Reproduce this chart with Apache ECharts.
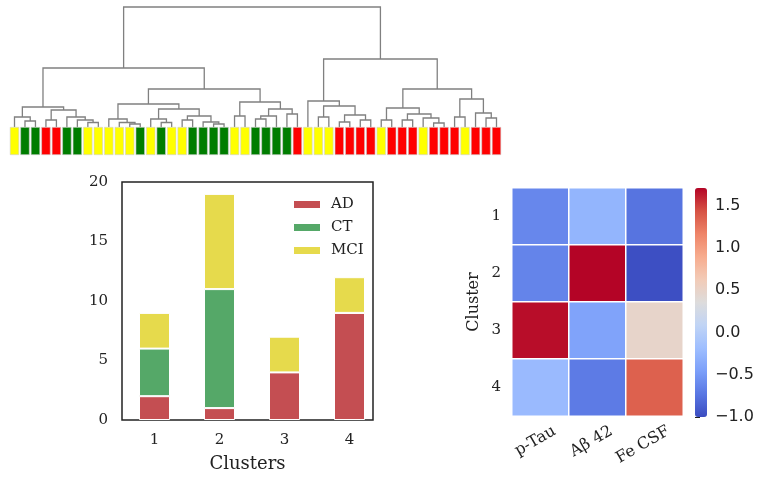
<!DOCTYPE html>
<html><head><meta charset="utf-8">
<script src="https://cdn.jsdelivr.net/npm/echarts@6/dist/echarts.min.js"></script>
<style>html,body{margin:0;padding:0;background:#fff}#c{width:765px;height:488px}</style>
</head><body><div id="c"></div>
<script>
// ---- Data ----
const leafClasses = ['MCI','CT','CT','AD','AD','CT','CT','MCI','MCI','MCI','MCI','MCI','CT','MCI','CT','MCI','MCI','CT','CT','CT','CT','MCI','MCI','CT','CT','CT','CT','AD','MCI','MCI','MCI','AD','AD','AD','AD','MCI','AD','AD','AD','MCI','AD','AD','AD','MCI','AD','AD','AD'];
// linkage rows: [nodeA, nodeB, distance]; node ids >= 47 refer to earlier merges (scipy style)
const linkage = [
 [1,2,0.6],[0,47,1.0],[3,4,0.7],[7,8,0.45],[6,50,0.7],[5,51,1.0],[49,52,1.7],[48,53,2.0],
 [11,12,0.3],[10,55,0.45],[9,56,0.8],[14,15,0.45],[13,58,0.8],[16,17,0.7],[19,20,0.3],[18,61,0.5],
 [60,62,1.1],[59,63,1.8],[57,64,2.3],[21,22,1.1],[23,24,0.8],[67,25,1.1],[26,27,1.3],[68,69,1.8],
 [66,70,2.5],[65,71,3.8],[54,72,5.9],
 [29,30,1.0],[31,32,0.5],[33,34,0.7],[75,76,1.2],[74,77,2.1],[28,78,2.6],
 [35,36,0.7],[37,38,0.7],[40,41,0.4],[39,82,0.9],[81,83,1.3],[80,84,1.9],[42,43,1.0],[45,46,0.9],
 [44,87,1.4],[86,88,2.8],[85,89,3.8],[79,90,6.8],[73,91,12.0]
];
const clusters = ['1','2','3','4'];
const adCounts = [2,1,4,9];
const ctCounts = [4,10,0,0];
const mciCounts = [3,8,3,3];
const features = ['p-Tau','A\u03b2 42','Fe CSF'];
const heatRows = ['1','2','3','4'];
const heatValues = [
 [-0.62,-0.27,-0.75],
 [-0.64, 1.71,-0.98],
 [ 1.68,-0.42, 0.49],
 [-0.22,-0.70, 1.36]
];
const colorbarTicks = [-1.0,-0.5,0.0,0.5,1.0,1.5];
const cbMin = -1.0, cbMax = 1.71;

// ---- Build ----
const nLeaf = leafClasses.length;
const nodeX = [], nodeH = [];
for (let i=0;i<nLeaf;i++){nodeX.push(i);nodeH.push(0);}
const dendroData = linkage.map(([a,b,h])=>{
  const row=[nodeX[a],nodeH[a],nodeX[b],nodeH[b],h];
  nodeX.push((nodeX[a]+nodeX[b])/2); nodeH.push(h);
  return row;
});
const stripColor = {AD:'#ff0000', CT:'#007d00', MCI:'#ffff00'};
const heatData=[];
heatValues.forEach((r,yi)=>r.forEach((v,xi)=>heatData.push([xi,yi,v])));
const serif = 'DejaVu Serif';
const txt = '#222';

const pitch = (496.5-14.5)/46;
const gLeft = 14.5 - pitch/2, gWidth = pitch*nLeaf;

const chart = echarts.init(document.getElementById('c'));
chart.setOption({
  animation:false,
  textStyle:{fontFamily:serif,color:txt},
  grid:[
    {left:gLeft, top:7, width:gWidth, height:120},
    {left:gLeft, top:127, width:gWidth, height:28},
    {left:122, top:182, width:260, height:238},
    {left:512, top:188, width:171, height:228},
    {left:695, top:188, width:12, height:229},
    {left:122, top:182, width:251, height:238, show:true, borderColor:'#222', borderWidth:1.5},
    {left:526, top:188, width:171, height:228}
  ],
  xAxis:[
    {gridIndex:0,type:'value',min:-0.5,max:nLeaf-0.5,show:false},
    {gridIndex:1,type:'category',data:leafClasses.map((c,i)=>String(i)),show:false},
    {gridIndex:2,type:'category',data:clusters,axisLine:{show:false},axisTick:{show:false},
     axisLabel:{fontSize:15,color:txt,margin:13,fontFamily:serif}},
    {gridIndex:3,type:'category',data:features,show:false},
    {gridIndex:4,type:'value',show:false,min:0,max:1},
    {gridIndex:5,type:'value',min:0,max:1,axisLine:{show:false},axisTick:{show:false},axisLabel:{show:false},splitLine:{show:false},
     name:'Clusters',nameLocation:'middle',nameGap:35,nameTextStyle:{fontSize:18,color:txt,fontFamily:serif}},
    {gridIndex:6,type:'category',data:features,axisLine:{show:false},axisTick:{show:false},
     axisLabel:{rotate:30,fontSize:16,color:txt,margin:14,fontFamily:serif}}
  ],
  yAxis:[
    {gridIndex:0,type:'value',min:0,max:12,show:false},
    {gridIndex:1,type:'value',min:0,max:1,show:false},
    {gridIndex:2,type:'value',min:0,max:20,interval:5,splitLine:{show:false},axisLine:{show:false},axisTick:{show:false},
     axisLabel:{fontSize:15,color:txt,margin:14,fontFamily:serif}},
    {gridIndex:3,type:'category',data:heatRows,inverse:true,axisLine:{show:false},axisTick:{show:false},
     axisLabel:{fontSize:15,color:txt,margin:11,fontFamily:serif},
     name:'Cluster',nameLocation:'middle',nameRotate:90,nameGap:30,nameTextStyle:{fontSize:16,color:txt,fontFamily:serif}},
    {gridIndex:4,type:'value',position:'right',min:cbMin,max:cbMax,splitLine:{show:false},axisLine:{show:false},
     axisTick:{show:true,length:5,customValues:colorbarTicks,lineStyle:{color:'#222'}},
     axisLabel:{customValues:colorbarTicks,fontFamily:'DejaVu Sans',fontSize:16,color:txt,margin:8,
       formatter:v=>(v<0?'\u2212':'')+Math.abs(v).toFixed(1)}},
    {gridIndex:5,type:'value',min:0,max:1,show:false},
    {gridIndex:6,type:'value',min:0,max:1,show:false}
  ],
  legend:{data:['AD','CT','MCI'],orient:'vertical',left:292,top:197,padding:0,itemWidth:28,itemHeight:9,itemGap:8,
    icon:'rect',textStyle:{fontFamily:serif,fontSize:15,color:txt,lineHeight:14,padding:[0,0,0,5]}},
  visualMap:{type:'continuous',seriesIndex:5,min:cbMin,max:cbMax,calculable:false,left:695,top:188,
    itemWidth:12,itemHeight:229,padding:0,show:true,text:null,
    inRange:{color:['#3b4cc0','#5977e3','#7b9ff9','#9ebeff','#c0d4f5','#dddcdc','#f2cbb7','#f7ac8e','#ee8468','#d65244','#b40426']}},
  series:[
    {type:'custom',xAxisIndex:0,yAxisIndex:0,data:dendroData,encode:{x:[0,2],y:[1,3,4]},silent:true,
     renderItem:(params,api)=>{
       const a=api.coord([api.value(0),api.value(1)]);
       const b=api.coord([api.value(0),api.value(4)]);
       const c=api.coord([api.value(2),api.value(4)]);
       const d=api.coord([api.value(2),api.value(3)]);
       return {type:'polyline',shape:{points:[a,b,c,d]},style:{stroke:'#808080',lineWidth:1.3,fill:null}};
     }},
    {type:'bar',xAxisIndex:1,yAxisIndex:1,barCategoryGap:'12%',silent:true,
     data:leafClasses.map(c=>({value:1,itemStyle:{color:stripColor[c],borderColor:'#cfcfcf',borderWidth:0.6}}))},
    {name:'AD',type:'bar',stack:'t',xAxisIndex:2,yAxisIndex:2,barWidth:31,data:adCounts,
     itemStyle:{color:'#c44e52',borderColor:'#fff',borderWidth:1}},
    {name:'CT',type:'bar',stack:'t',xAxisIndex:2,yAxisIndex:2,barWidth:31,data:ctCounts,
     itemStyle:{color:'#55a868',borderColor:'#fff',borderWidth:1}},
    {name:'MCI',type:'bar',stack:'t',xAxisIndex:2,yAxisIndex:2,barWidth:31,data:mciCounts,
     itemStyle:{color:'#e6da4c',borderColor:'#fff',borderWidth:1}},
    {type:'heatmap',xAxisIndex:3,yAxisIndex:3,data:heatData,itemStyle:{borderColor:'#fff',borderWidth:1.5}}
  ]
});
</script></body></html>
